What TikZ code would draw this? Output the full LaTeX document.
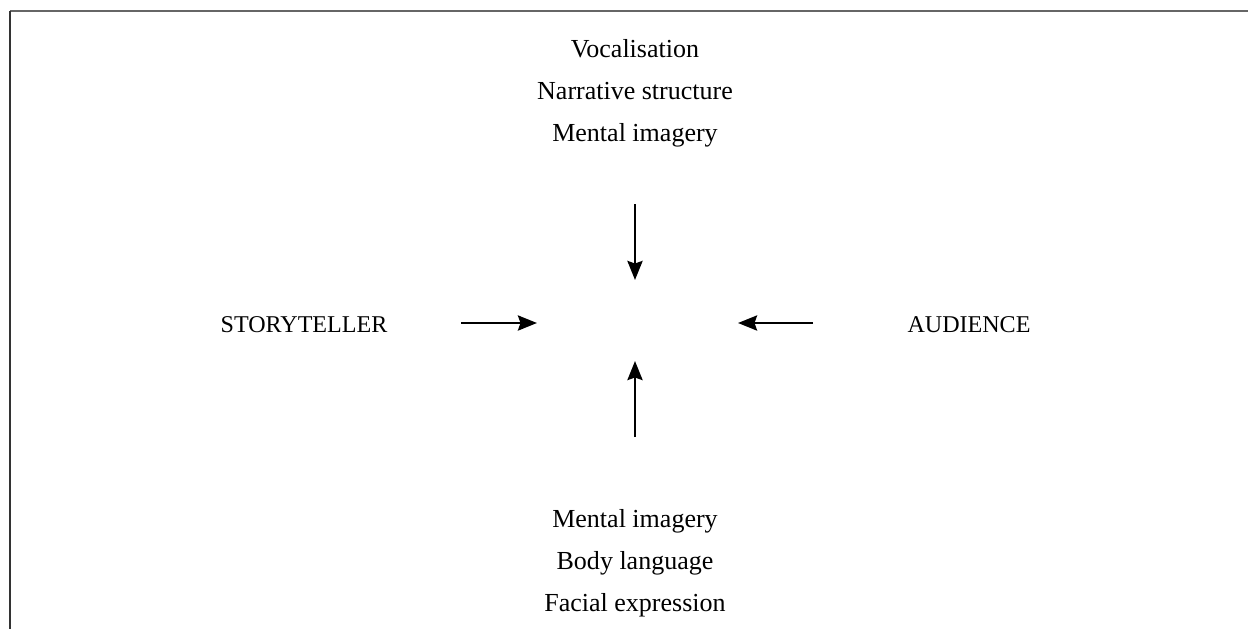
\documentclass[tikz,border=0pt]{standalone}
\usepackage{fontspec}
\setmainfont{Liberation Serif}
\usetikzlibrary{arrows.meta}
\tikzset{>={Stealth[length=3.8mm, width=3mm, inset=0.5mm]}}

\begin{document}
\begin{tikzpicture}[x = 0.02cm, y = -0.02cm, font = {\fontsize{14.8pt}{24pt}\selectfont}]
\useasboundingbox (0,0) rectangle (1248,629);

% open frame: top and left edges only
\draw[line width = 1.2pt, black!60] (10,11) -- (1248,11);
\draw[line width = 1.2pt, black!80] (10,11) -- (10,629);

\node[align = center] (TOP) at (635, 93) {Vocalisation \\ Narrative structure \\ Mental imagery};
\node[align = center] (BOT) at (635, 563) {Mental imagery \\ Body language \\ Facial expression};
\node[anchor = base, font = {\fontsize{13.7pt}{16pt}\selectfont}] (TELL) at (304, 332) {STORYTELLER};
\node[anchor = base, font = {\fontsize{13.7pt}{16pt}\selectfont}] (AUD) at (969, 332) {AUDIENCE};

\coordinate (TOP-Start) at (635, 204);
\coordinate (TOP-Tip) at (635, 280);
\coordinate (BOT-Start) at (635, 437);
\coordinate (BOT-Tip) at (635, 361);
\coordinate (TELL-Start) at (461, 323);
\coordinate (TELL-Tip) at (537, 323);
\coordinate (AUD-Start) at (813, 323);
\coordinate (AUD-Tip) at (738, 323);

\draw[->, line width = 1.6pt] (TOP-Start) -- (TOP-Tip);
\draw[->, line width = 1.6pt] (BOT-Start) -- (BOT-Tip);
\draw[->, line width = 1.6pt] (TELL-Start) -- (TELL-Tip);
\draw[->, line width = 1.6pt] (AUD-Start) -- (AUD-Tip);
\end{tikzpicture}
\end{document}
